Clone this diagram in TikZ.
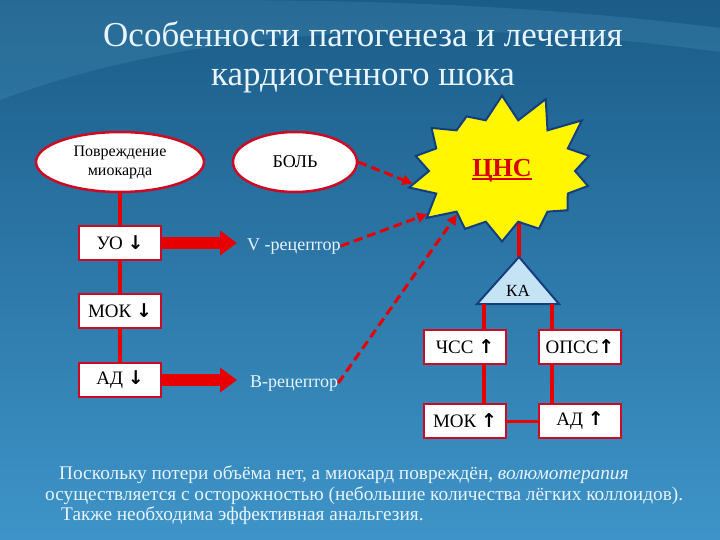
\documentclass[tikz,border=0pt]{standalone}
\usepackage{fontspec}
\setmainfont{Liberation Serif}
\newfontfamily\arrowfont{DejaVu Sans}
\usetikzlibrary{arrows.meta,shapes.symbols,shapes.geometric}

\definecolor{bgtop}{RGB}{27,92,136}
\definecolor{bgbot}{RGB}{62,148,200}
\definecolor{boxred}{RGB}{205,10,35}
\definecolor{linkred}{RGB}{232,0,0}
\definecolor{palefont}{RGB}{232,244,255}
\definecolor{starfill}{RGB}{255,246,0}
\definecolor{starline}{RGB}{20,62,128}
\definecolor{kafill}{RGB}{196,228,246}

\newcommand{\arr}[1]{{\arrowfont\bfseries #1}}
\newcommand{\ulinetext}[1]{{\setbox0\hbox{#1}\rlap{\rule[-3pt]{\wd0}{1.6pt}}\box0}}

\tikzset{
  oval/.style={ellipse, draw=boxred, line width=2.5pt, fill=white, inner sep=0pt},
  box/.style={rectangle, draw=boxred, line width=2.5pt, fill=white,
    minimum width=82pt, minimum height=34pt, font=\fontsize{19}{21}\selectfont},
  link/.style={linkred, line width=4pt},
  bigarrow/.style={linkred, line width=12pt, -{Triangle[length=17pt,width=24pt]}},
  dasharrow/.style={linkred, line width=3pt, dash pattern=on 9pt off 5pt,
    -{Triangle[length=10pt,width=10pt]}},
  pale/.style={text=palefont, inner sep=0pt},
  starnode/.style={starburst, starburst points=14, starburst point height=34pt,
    random starburst=31, fill=starfill, draw=starline, line width=2pt,
    minimum width=214pt, minimum height=172pt, text=red!85!black,
    font=\fontsize{26}{28}\selectfont\bfseries},
}

\begin{document}
\begin{tikzpicture}[x=1pt, y=-1pt]
    \useasboundingbox (0,0) rectangle (720,540);

    % Background
    \fill[top color=bgtop, bottom color=bgbot] (0,0) rectangle (720,540);
    \fill[cyan!50!white, opacity=0.12] (0,0) -- (0,100)
        .. controls (200,25) and (450,15) .. (720,52) -- (720,28)
        .. controls (500,0) and (300,0) .. (180,0) -- cycle;

    % Title
    \node[pale, align=center, font=\fontsize{35}{39}\selectfont] (title) at (363,57)
        {Особенности патогенеза и лечения\\кардиогенного шока};

    % Link from CNS down to KA (behind the star)
    \coordinate (cnsfoot) at (519,205);
    \coordinate (apex) at (519,257);
    \coordinate (kal) at (484,304);
    \coordinate (kar) at (552,304);
    \draw[link] (cnsfoot) -- (apex);

    % Define nodes
    \node[starnode] (cns) at (502,171) {\ulinetext{ЦНС}};
    \node[oval, minimum width=168pt, minimum height=60pt, align=center,
        font=\fontsize{16}{19}\selectfont] (dmg) at (120,162) {Повреждение\\миокарда};
    \node[oval, minimum width=124pt, minimum height=60pt,
        font=\fontsize{18}{20}\selectfont] (bol) at (295,162) {БОЛЬ};
    \node[box] (uo) at (120,243) {УО \arr{↓}};
    \node[box] (mokd) at (120,311) {МОК \arr{↓}};
    \node[box] (add) at (120,380) {АД \arr{↓}};
    \node[pale, anchor=base west, font=\fontsize{18}{20}\selectfont] (vrec) at (247,250) {V -рецептор};
    \node[pale, anchor=base west, font=\fontsize{18}{20}\selectfont] (brec) at (250,387) {В-рецептор};

    \draw[starline, line width=2pt, fill=kafill] (apex) -- (477,304) -- (559,304) -- cycle;
    \node[font=\fontsize{17}{19}\selectfont] (ka) at (518,291) {КА};
    \node[box] (chss) at (465,347) {ЧСС \arr{↑}};
    \node[box] (opss) at (580,347) {ОПСС\arr{↑}};
    \node[box] (moku) at (465,421) {МОК \arr{↑}};
    \node[box] (adu) at (580,421) {АД \arr{↑}};

    % Draw edges
    \draw[link] (dmg.south) -- (uo.north);
    \draw[link] (uo.south) -- (mokd.north);
    \draw[link] (mokd.south) -- (add.north);
    \draw[link] (kal) -- (kal |- chss.north);
    \draw[link] (kar) -- (kar |- opss.north);
    \draw[link] (kal |- chss.south) -- (kal |- moku.north);
    \draw[link] (kar |- opss.south) -- (kar |- adu.north);
    \draw[link, line width=3pt] (moku.east) -- (adu.west);

    \draw[bigarrow, shorten >=10pt] (uo.east) -- (uo.east -| vrec.west);
    \draw[bigarrow, shorten >=13pt] (add.east) -- (add.east -| brec.west);

    \draw[dasharrow] (bol.east) -- (cns.188);
    \draw[dasharrow] (vrec.east) -- (cns.210);
    \draw[dasharrow] (brec.east) -- (cns.224);

    % Note below
    \begin{scope}[every node/.style={pale, anchor=base west, font=\fontsize{19.3}{21}\selectfont}]
    \node (txta) at (59,479) {Поскольку потери объёма нет, а миокард повреждён, \textit{волюмотерапия}};
    \node (txtb) at (45,500) {осуществляется с осторожностью (небольшие количества лёгких коллоидов).};
    \node (txtc) at (61,520) {Также необходима эффективная анальгезия.};
    \end{scope}

\end{tikzpicture}
\end{document}
